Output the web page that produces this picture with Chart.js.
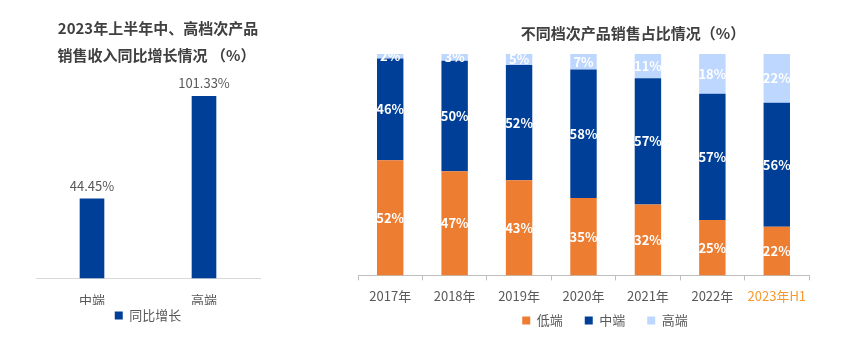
<!DOCTYPE html>
<html lang="zh">
<head>
<meta charset="UTF-8">
<title>产品销售情况</title>
<script src="https://cdn.jsdelivr.net/npm/chart.js"></script>
<style>
  body { margin: 0; background: #fff; overflow: hidden; }
  #wrap { position: relative; width: 865px; height: 343px; font-family: 'Microsoft YaHei', 'Noto Sans CJK SC', sans-serif; }
  #growthChart { position: absolute; left: 0; top: 0; }
  #shareChart { position: absolute; left: 330px; top: 0; }
  .ttl { position: absolute; font-size: 15px; font-weight: bold; color: #404040; text-align: center; line-height: 27px; white-space: nowrap; }
  #ttlLeft1 { left: 0; width: 316px; top: 14px; }
  #ttlLeft2 { left: 0; width: 313px; top: 41px; }
  #ttlRight { left: 483px; width: 300px; top: 19px; }
</style>
</head>
<body>
<div id="wrap">
  <canvas id="growthChart" width="316" height="343"></canvas>
  <canvas id="shareChart" width="535" height="343"></canvas>
  <div class="ttl" id="ttlLeft1">2023年上半年中、高档次产品</div>
  <div class="ttl" id="ttlLeft2">销售收入同比增长情况 （%）</div>
  <div class="ttl" id="ttlRight">不同档次产品销售占比情况（%）</div>
</div>
<script>
  // left chart data
  const growthLabels = ['中端', '高端'];
  const growthValues = [44.45, 101.33];

  // right chart data (%)
  const years = ['2017年', '2018年', '2019年', '2020年', '2021年', '2022年', '2023年H1'];
  const lowShare = [52, 47, 43, 35, 32, 25, 22];
  const midShare = [46, 50, 52, 58, 57, 57, 56];
  const highShare = [2, 3, 5, 7, 11, 18, 22];

  const FONT = "'Microsoft YaHei', 'Noto Sans CJK SC', sans-serif";
  const GREY = '#595959';
  const BLUE = '#003F97';

  // simple value label plugin (no datalabels available offline)
  const valueLabels = {
    id: 'valueLabels',
    afterDatasetsDraw(chart, args, opts) {
      const ctx = chart.ctx;
      ctx.save();
      chart.data.datasets.forEach((ds, i) => {
        const meta = chart.getDatasetMeta(i);
        meta.data.forEach((bar, j) => {
          const v = ds.data[j];
          ctx.textAlign = 'center';
          if (opts.inside) {
            ctx.font = 'bold 13px ' + FONT;
            ctx.fillStyle = '#ffffff';
            ctx.textBaseline = 'middle';
            ctx.fillText(v + '%', bar.x, (bar.y + bar.base) / 2);
          } else {
            ctx.font = '13px ' + FONT;
            ctx.fillStyle = GREY;
            ctx.textBaseline = 'bottom';
            ctx.fillText(v.toFixed(2) + '%', bar.x, bar.y - 6);
          }
        });
      });
      ctx.restore();
    }
  };

  new Chart(document.getElementById('growthChart'), {
    type: 'bar',
    data: {
      labels: growthLabels,
      datasets: [{
        label: '同比增长',
        data: growthValues,
        backgroundColor: BLUE,
        barPercentage: 0.22,
        categoryPercentage: 1
      }]
    },
    options: {
      responsive: false,
      animation: false,
      layout: { padding: { top: 75, left: 36, right: 56, bottom: 11 } },
      scales: {
        x: {
          grid: { display: true, drawOnChartArea: false, drawTicks: false },
          border: { color: '#D9D9D9', width: 1 },
          ticks: { color: GREY, font: { size: 13, family: FONT }, padding: 14 },
          afterFit: s => { s.height -= 17; }
        },
        y: { display: false, min: 0, max: 113 }
      },
      plugins: {
        legend: {
          position: 'bottom',
          labels: { color: GREY, boxWidth: 8, boxHeight: 8, padding: 4, font: { size: 13, family: FONT } }
        },
        tooltip: { enabled: false },
        valueLabels: { inside: false }
      }
    },
    plugins: [valueLabels]
  });

  new Chart(document.getElementById('shareChart'), {
    type: 'bar',
    data: {
      labels: years,
      datasets: [
        { label: '低端', data: lowShare, backgroundColor: '#ED7D31' },
        { label: '中端', data: midShare, backgroundColor: BLUE },
        { label: '高端', data: highShare, backgroundColor: '#BDD7FF' }
      ]
    },
    options: {
      responsive: false,
      animation: false,
      datasets: { bar: { barPercentage: 0.41, categoryPercentage: 1 } },
      layout: { padding: { top: 54, left: 28, right: 0, bottom: 6 } },
      scales: {
        x: {
          stacked: true,
          grid: { display: true, drawOnChartArea: false, drawTicks: true, tickLength: 5, color: '#BFBFBF' },
          border: { color: '#BFBFBF', width: 1 },
          ticks: {
            color: ctx => ctx.index === years.length - 1 ? '#F79A2E' : GREY,
            font: { size: 13, family: FONT },
            padding: 8,
            maxRotation: 0
          },
          afterFit: s => { s.height -= 7; }
        },
        // value axis kept invisible on the right; its width only shifts the legend
        y: {
          display: true, position: 'right', stacked: true, min: 0, max: 100,
          ticks: { display: false }, grid: { display: false }, border: { display: false },
          afterFit: s => { s.width = 56; }
        }
      },
      plugins: {
        legend: {
          position: 'bottom',
          labels: {
            color: GREY, boxWidth: 8, boxHeight: 8, padding: 9, font: { size: 13, family: FONT },
            // wider gaps between items than labels.padding allows
            generateLabels: chart => Chart.defaults.plugins.legend.labels.generateLabels(chart)
              .map(item => Object.assign(item, { text: item.text + '\u3000' }))
          }
        },
        tooltip: { enabled: false },
        valueLabels: { inside: true }
      }
    },
    plugins: [valueLabels]
  });
</script>
</body>
</html>
